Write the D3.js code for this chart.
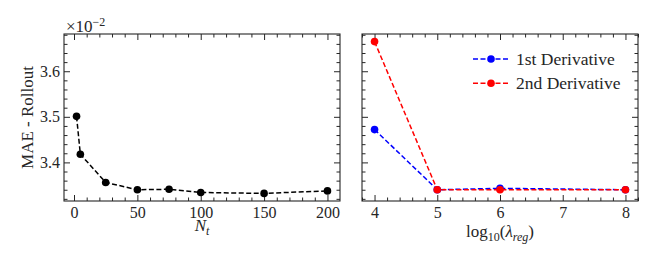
<!DOCTYPE html>
<html>
<head>
<meta charset="utf-8">
<script src="https://cdn.jsdelivr.net/npm/d3@7"></script>
<style>
  body { margin: 0; background: #fff; }
  svg { display: block; }
  svg text { font-family: "Liberation Serif", "DejaVu Serif", serif; }
</style>
</head>
<body>
<script>
// left panel: MAE vs N_t
const ntValues = [2, 5, 25, 50, 75, 100, 150, 200];
const ntMae = [3.501, 3.418, 3.356, 3.340, 3.341, 3.334, 3.332, 3.3375];

// right panel: MAE vs log10(lambda_reg)
const lambdaLog = [4, 5, 6, 8];
const firstDeriv = [3.472, 3.340, 3.343, 3.340];
const secondDeriv = [3.665, 3.340, 3.340, 3.340];

const seriesNames = ["1st Derivative", "2nd Derivative"];
const seriesColors = ["#0000ff", "#ff0000"];

const yTicks = [3.4, 3.5, 3.6];
const ntTicks = [0, 50, 100, 150, 200];
const lambdaTicks = [4, 5, 6, 7, 8];

const w = 658, h = 263;
const plotTop = 34, plotBottom = 201;
const ink = "#262626";

const svg = d3.select("body").append("svg")
    .attr("width", w)
    .attr("height", h);

const yScale = d3.scaleLinear().domain([3.3153, 3.6817]).range([plotBottom, plotTop]);
const yMinor = d3.range(3.32, 3.681, 0.02).map(v => +v.toFixed(2)).filter(v => !yTicks.includes(v));

function frame(x0, x1, xScale, xMajor, xMinor, showY) {
    const g = svg.append("g");

    const axes = [
        [d3.axisBottom, `translate(0,${plotBottom})`, xScale, xMajor, xMinor, true],
        [d3.axisTop, `translate(0,${plotTop})`, xScale, xMajor, xMinor, false],
        [d3.axisLeft, `translate(${x0},0)`, yScale, yTicks, yMinor, showY],
        [d3.axisRight, `translate(${x1},0)`, yScale, yTicks, yMinor, false]
    ];
    axes.forEach(([fn, tr, sc, major, minor, labels]) => {
        const isX = fn === d3.axisBottom || fn === d3.axisTop;
        g.append("g")
            .attr("transform", tr)
            .call(fn(sc).tickValues(minor).tickSize(-3.5).tickSizeOuter(0).tickFormat(""))
            .call(a => a.select(".domain").remove())
            .call(a => a.selectAll("line").attr("stroke", ink));
        const ax = g.append("g")
            .attr("transform", tr)
            .call(fn(sc).tickValues(major).tickSize(-6).tickSizeOuter(0)
                .tickPadding(isX ? 6 : 4)
                .tickFormat(labels ? (isX ? d3.format("d") : d3.format(".1f")) : ""))
            .call(a => a.select(".domain").remove())
            .attr("font-family", null)
            .attr("font-size", 16);
        ax.selectAll("line").attr("stroke", ink);
        ax.selectAll("text").attr("fill", ink);
    });

    g.append("rect")
        .attr("x", x0).attr("y", plotTop)
        .attr("width", x1 - x0).attr("height", plotBottom - plotTop)
        .attr("fill", "none")
        .attr("stroke", ink)
        .attr("stroke-width", 1.1);
}

function series(xScale, xs, ys, color) {
    const line = d3.line().x((d, i) => xScale(xs[i])).y(d => yScale(d));
    svg.append("path")
        .datum(ys)
        .attr("d", line)
        .attr("fill", "none")
        .attr("stroke", color)
        .attr("stroke-width", 1.5)
        .attr("stroke-dasharray", "5,2.5");
    svg.append("g").selectAll("circle")
        .data(ys)
        .enter()
        .append("circle")
        .attr("cx", (d, i) => xScale(xs[i]))
        .attr("cy", d => yScale(d))
        .attr("r", 3.8)
        .attr("fill", color);
}

// left panel
const xLeft = d3.scaleLinear().domain([-7.9, 209.9]).range([64, 340]);
frame(64, 340, xLeft, ntTicks, d3.range(10, 210, 10).filter(v => v % 50 !== 0), true);
series(xLeft, ntValues, ntMae, "#000");

// y label
svg.append("text")
    .attr("transform", "translate(33,117.5) rotate(-90)")
    .attr("text-anchor", "middle")
    .attr("fill", ink)
    .style("font-size", "17px")
    .text("MAE - Rollout");

// exponent
const expo = svg.append("text")
    .attr("x", 66).attr("y", 31.5)
    .attr("fill", ink)
    .style("font-size", "17px");
expo.append("tspan").text("×10");
expo.append("tspan").attr("dy", -6).style("font-size", "12px").text("−2");

// x label N_t
const nt = svg.append("text")
    .attr("x", 202).attr("y", 231)
    .attr("text-anchor", "middle")
    .attr("fill", ink)
    .style("font-size", "17px");
nt.append("tspan").style("font-style", "italic").text("N");
nt.append("tspan").attr("dy", 4).style("font-style", "italic").style("font-size", "12px").text("t");

// right panel
const xRight = d3.scaleLinear().domain([3.8, 8.2]).range([362, 638]);
frame(362, 638, xRight, lambdaTicks, d3.range(3.8, 8.21, 0.2).map(v => +v.toFixed(1)).filter(v => v % 1 !== 0), false);
series(xRight, lambdaLog, firstDeriv, seriesColors[0]);
series(xRight, lambdaLog, secondDeriv, seriesColors[1]);

const lg = svg.append("text")
    .attr("x", 500).attr("y", 237)
    .attr("text-anchor", "middle")
    .attr("fill", ink)
    .style("font-size", "17px");
lg.append("tspan").text("log");
lg.append("tspan").attr("dy", 4).style("font-size", "12px").text("10");
lg.append("tspan").attr("dy", -4).text("(");
lg.append("tspan").style("font-style", "italic").text("λ");
lg.append("tspan").attr("dy", 4).style("font-style", "italic").style("font-size", "12px").text("reg");
lg.append("tspan").attr("dy", -4).text(")");

// legend
seriesNames.forEach((name, i) => {
    const y = 59 + i * 24.3;
    svg.append("line")
        .attr("x1", 473).attr("x2", 508)
        .attr("y1", y).attr("y2", y)
        .attr("stroke", seriesColors[i])
        .attr("stroke-width", 1.5)
        .attr("stroke-dasharray", "5,2.5");
    svg.append("circle")
        .attr("cx", 491).attr("cy", y).attr("r", 3.8)
        .attr("fill", seriesColors[i]);
    svg.append("text")
        .attr("x", 516).attr("y", y + 6)
        .attr("fill", ink)
        .style("font-size", "17.5px")
        .text(name);
});
</script>
</body>
</html>
